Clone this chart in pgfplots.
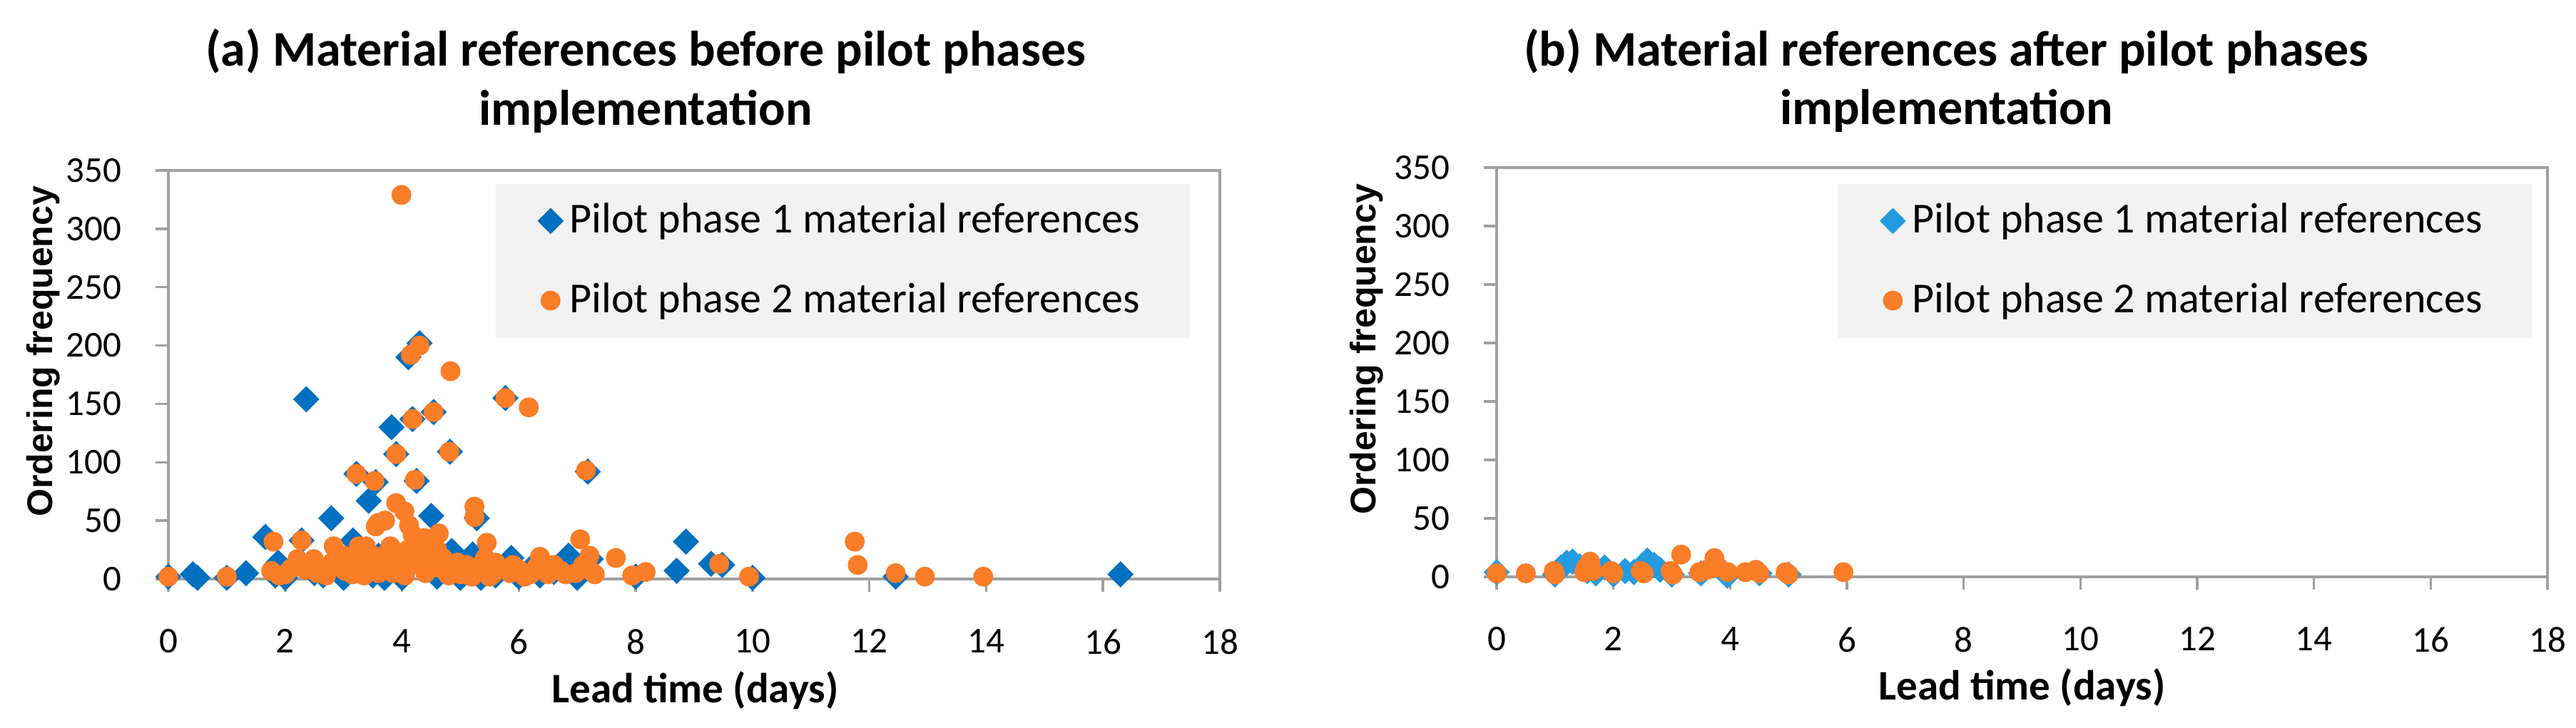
\documentclass[border=0pt]{standalone}
\usepackage{fontspec}
\setmainfont{Carlito}
\newfontfamily\arialfont{Liberation Sans}
\usepackage{pgfplots}
\pgfplotsset{compat=1.18}
\definecolor{pblue}{RGB}{0,112,192}
\definecolor{pblueb}{RGB}{35,155,225}
\definecolor{porange}{RGB}{250,125,40}
\definecolor{axgray}{RGB}{160,160,160}
\definecolor{leggray}{RGB}{242,242,242}

\pgfplotsset{
 myaxis/.style={
  scale only axis,
  xmin=0,xmax=18,ymin=0,ymax=350,
  xtick={0,2,...,18}, ytick={0,50,...,350},
  axis line style={axgray, line width=0.7pt},
  tick style={axgray, line width=0.7pt},
  tick align=outside, tick pos=left, major tick length=3.6pt,
  /pgf/number format/assume math mode=true,
  ticklabel style={font=\fontsize{10.2}{11}\selectfont},
  xticklabel style={yshift=-7pt},
  yticklabel style={xshift=-6pt},
  xlabel={Lead time (days)},
  ylabel={Ordering frequency},
  xlabel style={font=\bfseries\fontsize{11.8}{13}\selectfont, anchor=center},
  ylabel style={font=\arialfont\bfseries\fontsize{10}{12}\selectfont, anchor=center},
  title style={font=\bfseries\fontsize{14}{16.5}\selectfont, align=center, anchor=center},
  legend style={fill=leggray, draw=none, font=\fontsize{12}{13}\selectfont, anchor=north east, inner xsep=12pt, inner ysep=3.5pt, row sep=8.5pt},
  legend cell align=left,
  legend image code/.code={\draw[#1] plot coordinates {(0pt,0pt)};},
  clip=false,
 },
 dia/.style={only marks, mark=square*, mark size=2.4pt, mark options={rotate=45, draw=#1, fill=#1}},
 dot/.style={only marks, mark=*, mark size=2.6pt, mark options={draw=porange, fill=porange}},
}

\pgfplotstableread{
x y
0 2
0.42 4
0.5 1
1.0 1
1.33 5
1.66 36
1.83 3
1.88 14
2.0 1
2.28 33
2.36 154
2.5 5
2.65 3
2.79 52
2.95 8
3.0 1
3.16 33
3.22 90
3.3 10
3.43 67
3.5 3
3.55 83
3.6 20
3.7 1
3.82 130
3.9 107
3.95 12
4.0 1
4.11 190
4.18 137
4.25 84
4.3 202
4.35 18
4.45 8
4.5 54
4.54 143
4.6 2
4.7 10
4.82 109
4.85 24
4.95 15
5.0 1
5.1 8
5.21 21
5.28 52
5.35 1
5.45 10
5.6 3
5.77 155
5.87 18
6.0 2
6.2 9
6.36 3
6.6 6
6.85 20
6.93 15
7.0 1
7.18 92
7.23 17
8.0 2
8.7 7
8.86 32
9.29 13
9.48 12
10.0 1
12.45 2
16.3 4
}\beforeone

\pgfplotstableread{
x y
0 2
1.0 2
1.76 7
1.8 32
1.9 3
2.0 4
2.1 9
2.21 17
2.28 33
2.35 8
2.4 12
2.49 17
2.55 5
2.65 7
2.7 3
2.8 14
2.83 28
2.9 12
3.0 20
3.02 7
3.1 18
3.15 4
3.22 90
3.26 28
3.3 15
3.35 3
3.38 28
3.45 8
3.5 20
3.53 84
3.55 45
3.59 48
3.6 5
3.65 15
3.7 12
3.71 50
3.75 22
3.8 28
3.85 5
3.9 107
3.9 65
3.95 18
3.99 329
4.0 10
4.04 58
4.05 3
4.1 25
4.12 46
4.15 192
4.18 137
4.18 38
4.2 15
4.22 85
4.24 32
4.28 25
4.3 200
4.3 12
4.35 20
4.38 35
4.4 5
4.45 28
4.5 15
4.54 143
4.55 10
4.6 25
4.63 39
4.7 18
4.75 6
4.8 3
4.81 109
4.83 178
4.9 8
4.95 14
5.0 4
5.05 9
5.1 12
5.15 3
5.2 2
5.24 62
5.24 53
5.3 6
5.35 12
5.42 18
5.45 31
5.5 2
5.55 4
5.6 14
5.7 9
5.77 155
5.85 5
5.9 12
6.0 8
6.1 2
6.17 147
6.2 4
6.3 10
6.36 19
6.45 7
6.5 4
6.6 12
6.72 7
6.8 4
6.97 5
7.05 34
7.1 12
7.15 93
7.21 20
7.23 7
7.3 4
7.66 18
7.94 3
8.17 6
9.43 13
9.94 2
11.75 32
11.8 12
12.45 5
12.95 2
13.95 2
}\beforetwo

\pgfplotstableread{
x y
0 4
1.0 2
1.1 8
1.2 12
1.3 13
1.42 9
1.55 5
1.7 3
1.85 8
2.0 2
2.2 5
2.35 4
2.5 9
2.58 14
2.7 10
2.8 6
3.0 2
3.5 3
3.95 1
4.5 3
5.0 2
}\afterone

\pgfplotstableread{
x y
0 3
0.5 3
0.98 5
1.0 2
1.5 4
1.53 8
1.6 13
1.65 5
1.96 5
2.0 3
2.47 5
2.52 3
2.98 5
3.02 2
3.16 19
3.47 4
3.6 6
3.73 16
3.8 8
3.96 4
4.26 4
4.44 6
4.5 3
4.95 4
5.0 2
5.94 4
}\aftertwo

\begin{document}
\begin{tikzpicture}
\path[use as bounding box] (0,0) rectangle (722.2pt,204pt);
\begin{axis}[myaxis,
  at={(47.2pt,41.6pt)}, anchor=south west,
  width=294.8pt, height=114.6pt,
  title={(a) Material references before pilot phases\\implementation},
  title style={at={(axis description cs:0.454,1.167)}},
  xlabel style={at={(axis description cs:0.501,-0.272)}},
  ylabel style={at={(axis description cs:-0.119,0.557)}},
  legend style={at={(axis description cs:0.972,0.969)}},
]
\addplot[dia=pblue] table[x=x,y=y] {\beforeone};
\addlegendentry{Pilot phase 1 material references}
\addplot[dot] table[x=x,y=y] {\beforetwo};
\addlegendentry{Pilot phase 2 material references}
\end{axis}
\begin{axis}[myaxis,
  at={(419.6pt,42.2pt)}, anchor=south west,
  width=294.6pt, height=114.8pt,
  title={(b) Material references after pilot phases\\implementation},
  title style={at={(axis description cs:0.428,1.16)}},
  xlabel style={at={(axis description cs:0.5,-0.27)}},
  ylabel style={at={(axis description cs:-0.1236,0.556)}},
  legend style={at={(axis description cs:0.986,0.962)}},
]
\addplot[dia=pblueb] table[x=x,y=y] {\afterone};
\addlegendentry{Pilot phase 1 material references}
\addplot[dot] table[x=x,y=y] {\aftertwo};
\addlegendentry{Pilot phase 2 material references}
\end{axis}
\end{tikzpicture}
\end{document}
